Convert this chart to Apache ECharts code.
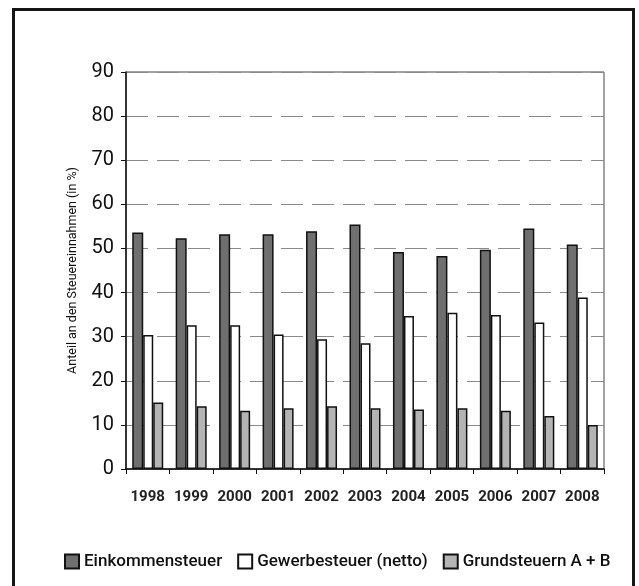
<!DOCTYPE html>
<html>
<head>
<meta charset="utf-8">
<script src="https://cdn.jsdelivr.net/npm/echarts@6/dist/echarts.min.js"></script>
<style>
    html, body { margin: 0; padding: 0; background: #fff; }
    #frame {
        position: absolute; left: 12px; top: 8px; width: 617px; height: 600px;
        border: 3px solid #151515;
    }
    #chart { position: absolute; left: 0; top: 0; width: 639px; height: 586px; }
</style>
</head>
<body>
<div id="frame"></div>
<div id="chart"></div>
<script>
const years = ['1998', '1999', '2000', '2001', '2002', '2003', '2004', '2005', '2006', '2007', '2008'];
const einkommen = [53.6, 52.3, 53.2, 53.2, 53.9, 55.4, 49.2, 48.3, 49.7, 54.5, 50.9];
const gewerbe = [30.4, 32.6, 32.6, 30.5, 29.4, 28.5, 34.7, 35.4, 34.9, 33.2, 38.9];
const grund = [15.1, 14.2, 13.2, 13.8, 14.2, 13.8, 13.5, 13.8, 13.2, 12.0, 10.0];
const yTicks = [0, 10, 20, 30, 40, 50, 60, 70, 80, 90];

const fontFamily = 'Roboto, "Liberation Sans", sans-serif';

const barStyle = color => ({
    color: color,
    borderColor: '#111',
    borderWidth: 1.5
});

const myChart = echarts.init(document.getElementById('chart'));
const option = {
    backgroundColor: 'transparent',
    animation: false,
    grid: {
        left: 126,
        right: 35,
        top: 72,
        bottom: 117,
        show: true,
        borderColor: '#444',
        borderWidth: 1
    },
    legend: {
        data: ['Einkommensteuer', 'Gewerbesteuer (netto)', 'Grundsteuern A + B'],
        top: 548,
        left: 59,
        icon: 'rect',
        itemWidth: 14,
        itemHeight: 14,
        itemGap: 15,
        itemStyle: { borderWidth: 2, borderColor: '#111' },
        textStyle: {
            fontFamily,
            fontSize: 17,
            fontWeight: 500,
            color: '#111'
        }
    },
    xAxis: {
        type: 'category',
        data: years,
        axisLine: { lineStyle: { color: '#111', width: 1.5 } },
        axisTick: { show: true, length: 5, lineStyle: { color: '#111' } },
        axisLabel: {
            interval: 0,
            fontFamily,
            fontSize: 15,
            fontWeight: 'bold',
            color: '#222',
            margin: 21
        }
    },
    yAxis: {
        type: 'value',
        min: 0,
        max: yTicks[yTicks.length - 1],
        interval: 10,
        name: 'Anteil an den Steuereinnahmen (in %)',
        nameLocation: 'middle',
        nameGap: 47,
        nameTextStyle: {
            fontFamily,
            fontSize: 12.5,
            color: '#111'
        },
        axisLine: { show: true, lineStyle: { color: '#111', width: 1.5 } },
        axisTick: { show: true, length: 5, lineStyle: { color: '#111' } },
        axisLabel: {
            fontFamily,
            fontSize: 20,
            color: '#111',
            margin: 12
        },
        splitLine: {
            lineStyle: { color: '#8a8a8a', type: [22, 9], width: 1 }
        }
    },
    series: [{
        name: 'Einkommensteuer',
        type: 'bar',
        data: einkommen,
        barWidth: 11,
        barGap: '0%',
        barCategoryGap: '26%',
        itemStyle: barStyle('#6f6f6f')
    }, {
        name: 'Gewerbesteuer (netto)',
        type: 'bar',
        data: gewerbe,
        barWidth: 10,
        barGap: '0%',
        itemStyle: barStyle('#ffffff')
    }, {
        name: 'Grundsteuern A + B',
        type: 'bar',
        data: grund,
        barWidth: 10,
        barGap: '0%',
        itemStyle: barStyle('#b4b4b4')
    }]
};
myChart.setOption(option);
</script>
</body>
</html>
